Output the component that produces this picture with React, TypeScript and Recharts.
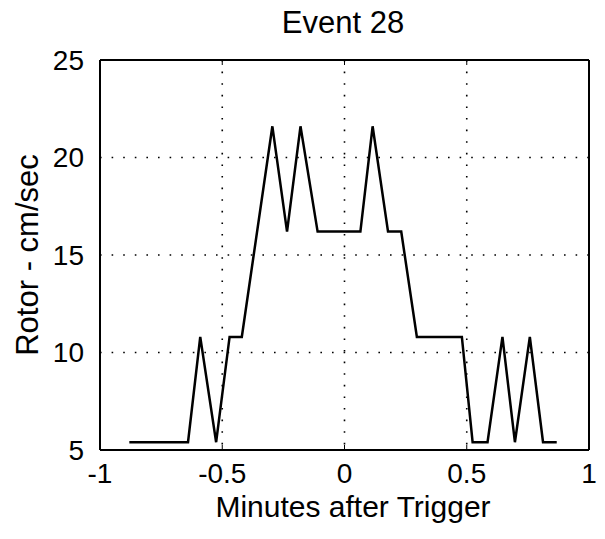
import { CartesianGrid, Line, LineChart, XAxis, YAxis } from 'recharts'

// minutes after trigger / rotor speed (cm/sec)
const minutes = [-0.88, -0.64, -0.59, -0.525, -0.47, -0.42, -0.295, -0.235, -0.18, -0.11, 0.065, 0.115, 0.178, 0.232, 0.296, 0.48, 0.524, 0.585, 0.646, 0.697, 0.758, 0.812, 0.868]
const rotor = [5.4, 5.4, 10.8, 5.4, 10.8, 10.8, 21.6, 16.2, 21.6, 16.2, 16.2, 21.6, 16.2, 16.2, 10.8, 10.8, 5.4, 5.4, 10.8, 5.4, 10.8, 5.4, 5.4]

const xTicks = [-1, -0.5, 0, 0.5, 1]
const yTicks = [5, 10, 15, 20, 25]

const W = 605
const H = 539
const FONT = '"Liberation Sans", Arial, Helvetica, sans-serif'
const TICK = { fontSize: 28, fill: '#000', fontFamily: FONT } as const
const FRAME = { stroke: '#000', strokeWidth: 2 }
const blank = () => ''

const data = minutes.map((t, i) => ({ t, v: rotor[i] }))

export default function App() {
  // negative margin cancels the body's 8px so chart coords = page coords
  return (
    <div style={{ position: 'relative', width: W, height: H, margin: -8, background: '#fff' }}>
      <LineChart width={W} height={H} data={data} margin={{ top: 60, right: 16, bottom: 49, left: 40 }}>
        <CartesianGrid stroke="#000" strokeWidth={1.6} strokeDasharray="1.6 10" />
        <XAxis type="number" dataKey="t" domain={[-1, 1]} ticks={xTicks} allowDataOverflow height={40}
          tick={TICK} tickLine={false} tickSize={0} tickMargin={13} axisLine={FRAME} interval={0} />
        <YAxis type="number" domain={[5, 25]} ticks={yTicks} allowDataOverflow width={60}
          tick={TICK} tickLine={false} tickSize={0} tickMargin={16} axisLine={FRAME} interval={0} />
        {/* mirrored axes: close the box and put small inward ticks on every side */}
        <XAxis xAxisId="top" orientation="top" mirror type="number" dataKey="t" domain={[-1, 1]} ticks={xTicks} height={10}
          tickFormatter={blank} tickSize={5} tickLine={{ stroke: '#000' }} axisLine={FRAME} interval={0} />
        <XAxis xAxisId="bm" orientation="bottom" mirror type="number" dataKey="t" domain={[-1, 1]} ticks={xTicks} height={10}
          tickFormatter={blank} tickSize={5} tickLine={{ stroke: '#000' }} axisLine={false} interval={0} />
        <YAxis yAxisId="right" orientation="right" mirror type="number" domain={[5, 25]} ticks={yTicks} width={10}
          tickFormatter={blank} tickSize={5} tickLine={{ stroke: '#000' }} axisLine={FRAME} interval={0} />
        <YAxis yAxisId="lm" orientation="left" mirror type="number" domain={[5, 25]} ticks={yTicks} width={10}
          tickFormatter={blank} tickSize={5} tickLine={{ stroke: '#000' }} axisLine={false} interval={0} />
        <Line type="linear" dataKey="v" stroke="#000" strokeWidth={2.5} dot={false} isAnimationActive={false} />
      </LineChart>
      <svg width={W} height={H} style={{ position: 'absolute', left: 0, top: 0, pointerEvents: 'none' }}
        fontFamily={FONT} fontSize={31} fill="#000">
        <text x={343} y={33} textAnchor="middle">Event 28</text>
        <text x={353} y={517} fontSize={30} textAnchor="middle">Minutes after Trigger</text>
        <text x={38} y={255} textAnchor="middle" transform="rotate(-90 38 255)">Rotor - cm/sec</text>
      </svg>
    </div>
  )
}
